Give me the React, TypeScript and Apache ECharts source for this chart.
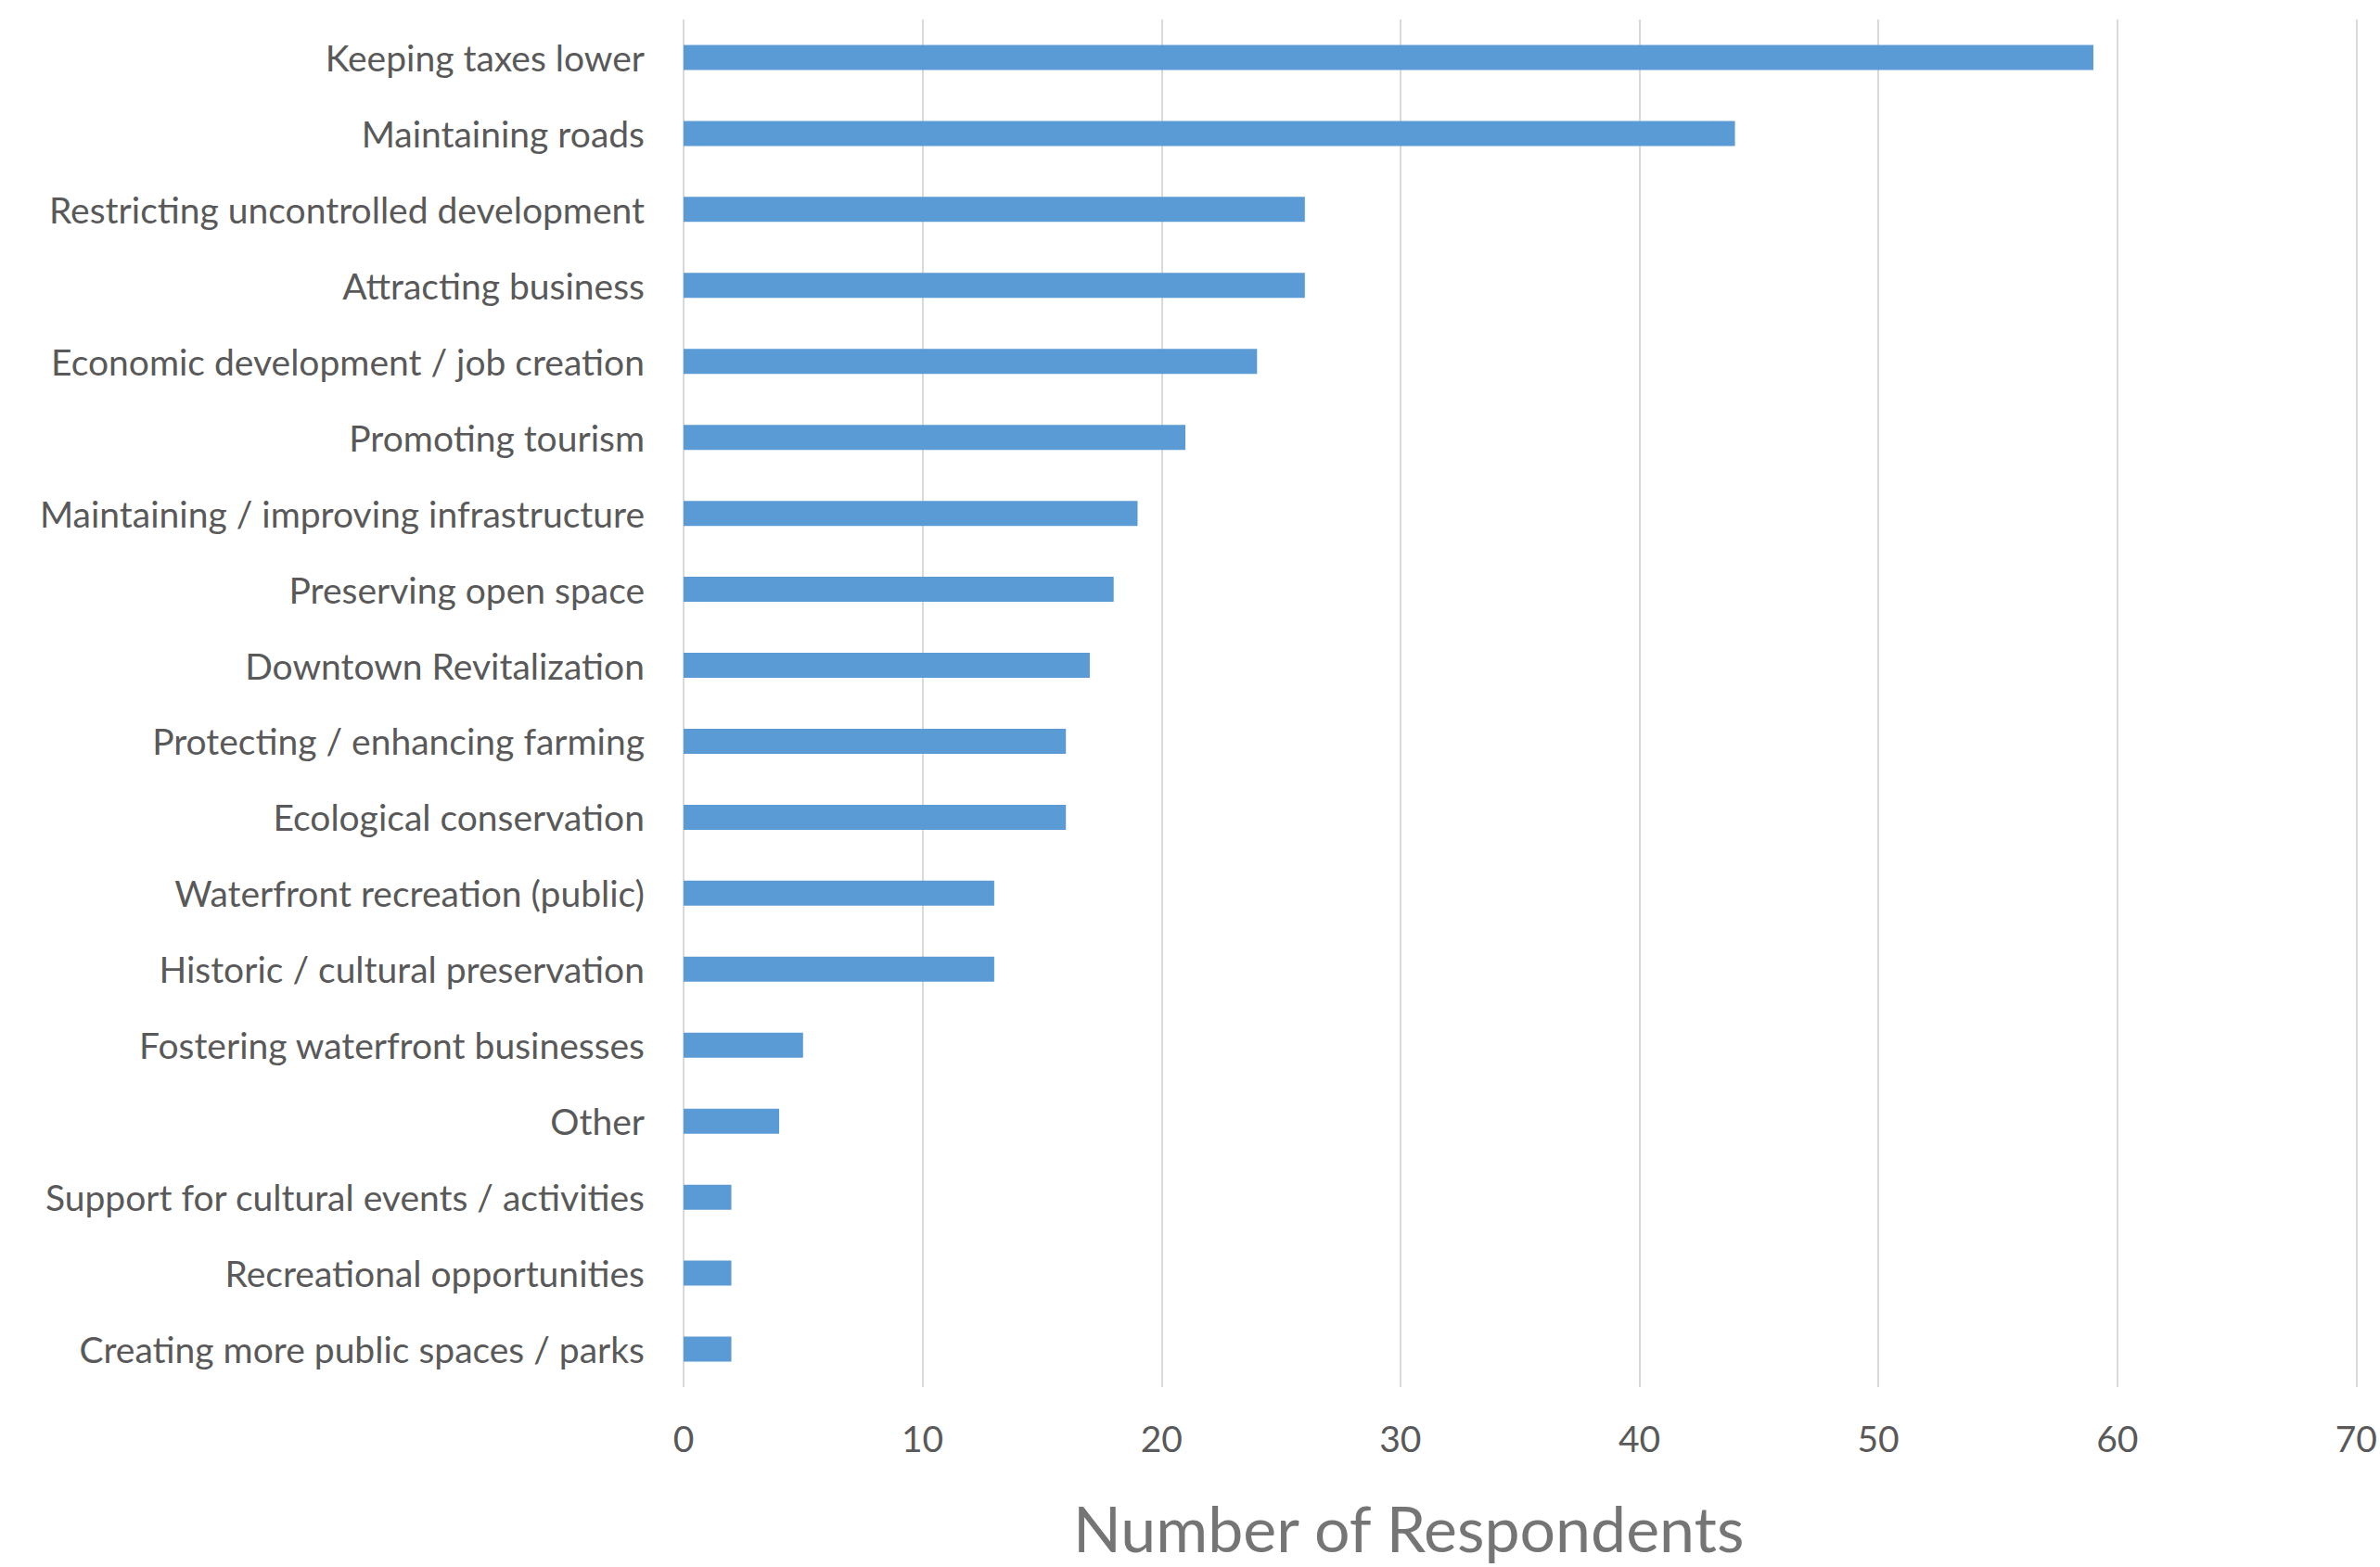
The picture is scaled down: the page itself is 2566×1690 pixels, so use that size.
import React, { useEffect, useRef } from "react";
import * as echarts from "echarts";

const categories = [
  "Keeping taxes lower",
  "Maintaining roads",
  "Restricting uncontrolled development",
  "Attracting business",
  "Economic development / job creation",
  "Promoting tourism",
  "Maintaining / improving infrastructure",
  "Preserving open space",
  "Downtown Revitalization",
  "Protecting / enhancing farming",
  "Ecological conservation",
  "Waterfront recreation (public)",
  "Historic / cultural preservation",
  "Fostering waterfront businesses",
  "Other",
  "Support for cultural events / activities",
  "Recreational opportunities",
  "Creating more public spaces / parks",
];

const respondents = [59, 44, 26, 26, 24, 21, 19, 18, 17, 16, 16, 13, 13, 5, 4, 2, 2, 2];

const xAxisTitle = "Number of Respondents";
const xMin = 0;
const xMax = 70;
const xInterval = 10;

const FONT = "Lato, 'Open Sans', sans-serif";

export default function App() {
  const ref = useRef<HTMLDivElement>(null);
  useEffect(() => {
    if (!ref.current) return;
    const chart = echarts.init(ref.current, undefined, { renderer: "svg" });
    chart.setOption({
      animation: false,
      backgroundColor: "#ffffff",
      textStyle: { fontFamily: FONT },
      grid: { left: 737, right: 10, top: 21, bottom: 194, containLabel: false },
      xAxis: {
        type: "value",
        min: xMin,
        max: xMax,
        interval: xInterval,
        axisLine: { show: false },
        axisTick: { show: false },
        splitLine: { show: true, lineStyle: { color: "#d9d9d9", width: 2 } },
        axisLabel: { color: "#595959", fontSize: 39, margin: 35, fontFamily: FONT },
        name: xAxisTitle,
        nameLocation: "middle",
        nameGap: 117,
        nameTextStyle: { color: "#757575", fontSize: 68, fontFamily: FONT, padding: [0, 240, 0, 0] },
      },
      yAxis: {
        type: "category",
        data: categories,
        inverse: true,
        axisLine: { show: false },
        axisTick: { show: false },
        splitLine: { show: false },
        axisLabel: { color: "#595959", fontSize: 39, margin: 42, fontFamily: FONT },
      },
      series: [
        {
          type: "bar",
          data: respondents,
          barWidth: 27,
          itemStyle: { color: "#5b9bd5" },
        },
      ],
    });
    return () => chart.dispose();
  }, []);
  return (
    <div
      ref={ref}
      style={{ position: "absolute", left: 0, top: 0, width: 2566, height: 1690 }}
    />
  );
}
